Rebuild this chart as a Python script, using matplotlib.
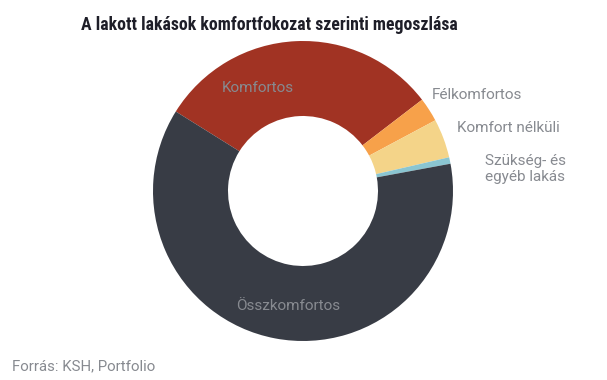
import matplotlib
matplotlib.use('Agg')
from matplotlib import pyplot as plt

# categories in drawing order (clockwise from the top-left boundary)
categories = ['Komfortos', 'Félkomfortos', 'Komfort nélküli', 'Szükség- és\negyéb lakás', 'Összkomfortos']
shares = [30.7, 2.6, 4.2, 0.7, 61.8]
colors = ['#A13323', '#F7A14A', '#F4D489', '#8AC5D1', '#383C45']

title = 'A lakott lakások komfortfokozat szerinti megoszlása'
source = 'Forrás: KSH, Portfolio'

plt.rcParams['font.family'] = ['Roboto', 'DejaVu Sans']

fig = plt.figure(figsize=(6.07, 3.80), dpi=100)
ax = fig.add_axes([153 / 607, 39 / 380, 300 / 607, 300 / 380])
wedges, _ = ax.pie(shares, colors=colors, startangle=148, counterclock=False,
                   radius=1, wedgeprops=dict(width=0.5, linewidth=0))
ax.set_xlim(-1, 1)
ax.set_ylim(-1, 1)
ax.set_aspect('equal')
ax.axis('off')

label_color = '#878a90'
fs = 11
# labels inside the ring
ax.text(-0.30, 0.687, categories[0], ha='center', va='center', fontsize=fs, color=label_color)
ax.text(-0.10, -0.767, categories[4], ha='center', va='center', fontsize=fs, color=label_color)
# labels outside the ring
ax.text(0.86, 0.64, categories[1], ha='left', va='center', fontsize=fs, color=label_color, clip_on=False)
ax.text(1.027, 0.42, categories[2], ha='left', va='center', fontsize=fs, color=label_color, clip_on=False)
ax.text(1.213, 0.147, categories[3], ha='left', va='center', fontsize=fs, color=label_color,
        clip_on=False, linespacing=1.2)

fig.text(0.5 * (82 + 457) / 607, 1 - 25 / 380, title, ha='center', va='center',
         fontsize=12.8, fontweight='bold', color='#1e1e28',
         family=['Roboto Condensed', 'Roboto', 'DejaVu Sans'])
fig.text(12 / 607, 1 - 366 / 380, source, ha='left', va='center', fontsize=10.8, color=label_color)

fig.savefig('out.png', dpi=100)
